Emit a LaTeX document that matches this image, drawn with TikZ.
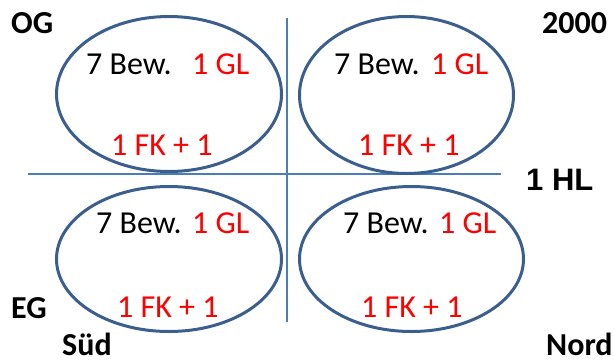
\documentclass[tikz,border=0pt]{standalone}
\usepackage{fontspec}
\setmainfont{Carlito}
\newfontfamily\arialfont{Liberation Sans}
\usetikzlibrary{shapes.geometric}
\definecolor{ringblue}{HTML}{3A5F8E}
\definecolor{lineblue}{HTML}{4A7EBB}
\definecolor{txtred}{HTML}{FF0000}
\begin{document}
\begin{tikzpicture}[x=1pt,y=-1pt,
  ring/.style={ellipse,draw=ringblue,line width=3pt,inner sep=0pt},
  axis/.style={draw=lineblue,line width=2pt},
  txt/.style={anchor=base west,inner sep=0pt,font=\fontsize{32}{38}\selectfont},
  redtxt/.style={txt,text=txtred},
  lbl/.style={anchor=base west,inner sep=0pt,font=\fontsize{32}{38}\selectfont\bfseries},
  hl/.style={anchor=base west,inner sep=0pt,font=\arialfont\fontsize{31}{36}\selectfont\bfseries}]
\useasboundingbox (0,0) rectangle (614,360);
% axes
\coordinate (vt) at (287,18);
\coordinate (vb) at (287,322);
\coordinate (hl) at (28,174);
\coordinate (hr) at (501,174);
\draw[axis] (vt) -- (vb);
\draw[axis] (hl) -- (hr);
% rings
\node[ring,minimum width=225pt,minimum height=155pt] (tl) at (169,94) {};
\node[ring,minimum width=214pt,minimum height=157pt] (tr) at (406.5,95) {};
\node[ring,minimum width=225pt,minimum height=145pt] (bl) at (169,259) {};
\node[ring,minimum width=224pt,minimum height=145pt] (br) at (411.5,259) {};
% texts top-left
\node[txt] (tlb) at (86,74) {7 Bew.};
\node[redtxt] (tlg) at (192,74) {1 GL};
\node[redtxt] (tlf) at (111,155) {1 FK + 1};
% top-right
\node[txt] (trb) at (334,74) {7 Bew.};
\node[redtxt] (trg) at (431,74) {1 GL};
\node[redtxt] (trf) at (358,155) {1 FK + 1};
% bottom-left
\node[txt] (blb) at (96,233) {7 Bew.};
\node[redtxt] (blg) at (192,233) {1 GL};
\node[redtxt] (blf) at (117,317) {1 FK + 1};
% bottom-right
\node[txt] (brb) at (343,233) {7 Bew.};
\node[redtxt] (brg) at (439,233) {1 GL};
\node[redtxt] (brf) at (361,317) {1 FK + 1};
% labels
\node[lbl] (og) at (11,33) {OG};
\node[lbl] (yr) at (542,33) {2000};
\node[hl] (hlab) at (526,190) {1 HL};
\node[lbl] (eg) at (11,318) {EG};
\node[lbl] (sued) at (62,355) {Süd};
\node[lbl] (nord) at (546,355) {Nord};
\end{tikzpicture}
\end{document}
